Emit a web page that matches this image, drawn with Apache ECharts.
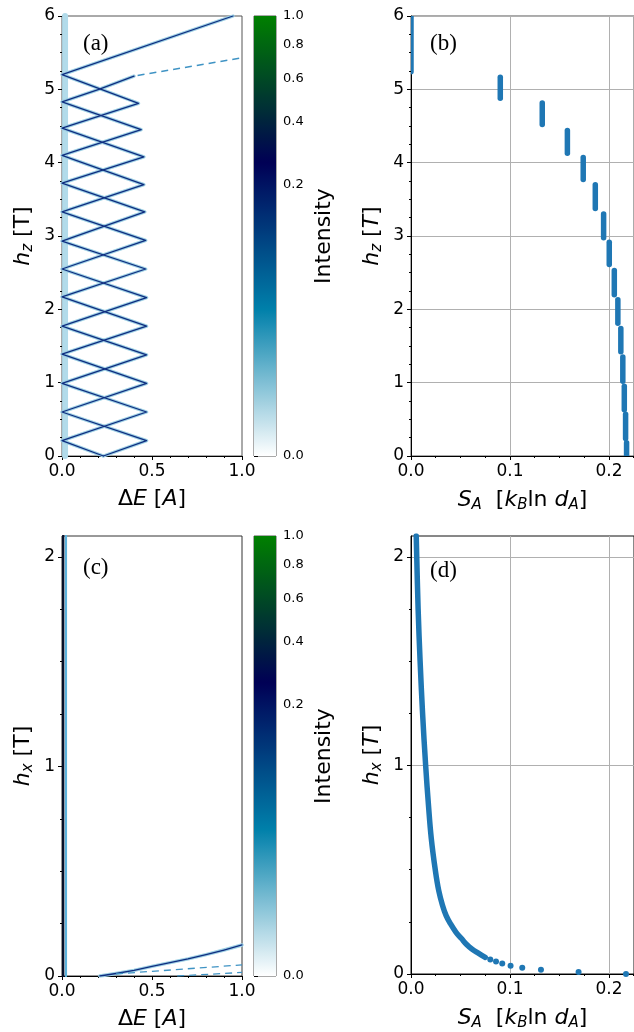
<!DOCTYPE html>
<html><head><meta charset="utf-8">
<script src="https://cdn.jsdelivr.net/npm/echarts@6/dist/echarts.min.js"></script>
<style>html,body{margin:0;padding:0;background:#fff}#c{width:634px;height:1032px}</style>
</head><body><div id="c"></div>
<script>
// ---------------- data ----------------
const colorbarTicks = [0, 0.2, 0.4, 0.6, 0.8, 1.0];
const colorbarTickLabels = ['0.0', '0.2', '0.4', '0.6', '0.8', '1.0'];
const powerGamma = 0.3;

const dETicks = [0, 0.5, 1.0];
const dETickLabels = ['0.0', '0.5', '1.0'];
const hzTicks = [0, 1, 2, 3, 4, 5, 6];
const hzTickLabels = ['0', '1', '2', '3', '4', '5', '6'];
const hxTicks = [0, 1, 2];
const hxTickLabels = ['0', '1', '2'];
const hxMinorTicks = [0.25, 0.5, 0.75, 1.25, 1.5, 1.75];
const entTicks = [0, 0.1, 0.2];
const entTickLabels = ['0.0', '0.1', '0.2'];
const entMinorTicks = [0.025, 0.05, 0.075, 0.125, 0.15, 0.175, 0.225];

// (a) spectral branches  [ΔE, h_z]
const aBranch1 = [[0.23,0],[0,0.21],[0.47,0.60],[0,0.99],[0.47,1.38],[0,1.77],[0.47,2.16],[0,2.55],[0.465,2.94],[0,3.33],[0.455,3.70],[0,4.10],[0.44,4.45],[0,4.83],[0.205,5.00],[0.40,5.18]];
const aBranch2 = [[0.23,0],[0.47,0.21],[0,0.60],[0.47,0.99],[0,1.39],[0.47,1.77],[0,2.17],[0.465,2.55],[0,2.93],[0.46,3.33],[0,3.72],[0.455,4.08],[0,4.47],[0.425,4.81],[0,5.20],[0.95,6.0]];
const aFaint = [[0.42,5.19],[1.0,5.43]];
const aZeroBand = [[0.017,0],[0.017,6]];

// (b) entanglement entropy plateaus: S_A and h_z range
const bEntropy = [0.0, 0.0902, 0.1326, 0.158, 0.174, 0.1862, 0.1946, 0.2003, 0.2054, 0.209, 0.212, 0.214, 0.2155, 0.2168, 0.2178];
const bHzLow  = [5.24, 4.88, 4.52, 4.13, 3.77, 3.375, 2.975, 2.61, 2.20, 1.81, 1.42, 1.02, 0.63, 0.24, 0.0];
const bHzHigh = [6.0, 5.165, 4.815, 4.44, 4.07, 3.70, 3.30, 2.915, 2.53, 2.13, 1.74, 1.35, 0.95, 0.57, 0.18];

// (c) spectral branches  [ΔE, h_x]
const cDark = [[0.007,0],[0.007,2.1]];
const cLight = [[0.022,0],[0.022,2.1]];
const cBranch = [[0.21,0],[0.3,0.012],[0.4,0.027],[0.5,0.046],[0.6,0.064],[0.7,0.082],[0.8,0.102],[0.9,0.124],[1.0,0.148]];
const cFaint1 = [[0.3,0.01],[1.0,0.053]];
const cFaint2 = [[0.64,0.0],[1.0,0.017]];

// (d) entropy vs h_x  [S_A, h_x]
const dCurve = [[0.0053,2.1],[0.0058,2.0],[0.0072,1.75],[0.0092,1.5],[0.0117,1.25],[0.0148,1.0],[0.0178,0.8],[0.0205,0.65],[0.0245,0.5],[0.028,0.4],[0.0318,0.33],[0.0355,0.28],[0.040,0.24],[0.0455,0.2],[0.051,0.17],[0.0565,0.14],[0.0615,0.12],[0.068,0.1],[0.075,0.08]];
const dDots = [[0.0801,0.07],[0.0859,0.06],[0.0922,0.05],[0.1006,0.04],[0.1124,0.03],[0.1313,0.02],[0.1693,0.01],[0.2172,0.0]];

// ---------------- styling helpers ----------------
const SANS = 'DejaVu Sans';
const BLUE = '#1f77b4';
function oceanR(f) {
  const x = 1 - f;
  const cl = v => Math.min(1, Math.max(0, v));
  const r = cl(3 * x - 2), g = cl(Math.abs((3 * x - 1) / 2)), b = cl(x);
  return 'rgb(' + Math.round(r * 255) + ',' + Math.round(g * 255) + ',' + Math.round(b * 255) + ')';
}
const cbStops = [];
for (let k = 0; k <= 60; k++) cbStops.push({ offset: k / 60, color: oceanR(k / 60) });

const rich = {
  n: { fontFamily: SANS, fontSize: 22, color: '#000' },
  i: { fontFamily: SANS, fontSize: 22, fontStyle: 'italic', color: '#000' },
  s: { fontFamily: SANS, fontSize: 15, fontStyle: 'italic', color: '#000', padding: [10, 0, 0, 0] }
};
const nameStyle = { fontFamily: SANS, fontSize: 22, color: '#000', rich: rich };
const tickLabel = (ticks, labels) => ({
  fontFamily: SANS, fontSize: 17, color: '#000', margin: 7,
  customValues: ticks,
  formatter: v => { const i = ticks.findIndex(t => Math.abs(t - v) < 1e-9); return i >= 0 ? labels[i] : ''; }
});
const majorTick = ticks => ({ show: true, length: 4, customValues: ticks, lineStyle: { color: '#000', width: 1 } });
const axisLine = { show: true, onZero: false, lineStyle: { color: '#000', width: 1 } };

function minorAxis(gridIndex, min, max, step, ticks, pos) {
  return {
    type: 'value', gridIndex, min, max, interval: step, position: pos, show: true,
    axisLine: { show: false }, axisLabel: { show: false }, splitLine: { show: false },
    axisTick: { show: true, length: 2, customValues: ticks, lineStyle: { color: '#000', width: 1 } }
  };
}

const cbNorm = colorbarTicks.map(v => Math.pow(v, powerGamma));
function colorbarYAxis(gridIndex) {
  return {
    type: 'value', gridIndex, min: 0, max: 1, interval: 0.05, position: 'right',
    axisLine: { show: false }, splitLine: { show: false },
    axisTick: { show: true, length: 4, customValues: cbNorm, lineStyle: { color: '#000', width: 1 } },
    axisLabel: {
      fontFamily: SANS, fontSize: 13, color: '#000', margin: 7, customValues: cbNorm,
      formatter: v => { const i = cbNorm.findIndex(t => Math.abs(t - v) < 1e-6); return i >= 0 ? colorbarTickLabels[i] : ''; }
    },
    name: 'Intensity', nameLocation: 'middle', nameRotate: 90, nameGap: 37,
    nameTextStyle: { fontFamily: SANS, fontSize: 22, color: '#000' }
  };
}
function colorbarSeries(xi, yi) {
  return {
    type: 'custom', xAxisIndex: xi, yAxisIndex: yi, silent: true, data: [[0, 0, 1, 1]],
    renderItem: (params, api) => {
      const p0 = api.coord([api.value(0), api.value(1)]);
      const p1 = api.coord([api.value(2), api.value(3)]);
      return { type: 'rect', shape: { x: p0[0], y: p1[1], width: p1[0] - p0[0], height: p0[1] - p1[1] },
        style: { fill: new echarts.graphic.LinearGradient(0, 1, 0, 0, cbStops) } };
    }
  };
}
function ln(data, xi, yi, color, width, extra) {
  return Object.assign({
    type: 'line', xAxisIndex: xi, yAxisIndex: yi, data, showSymbol: false, symbol: 'none', silent: true,
    lineStyle: { color, width, cap: 'round', join: 'round' }, clip: true
  }, extra || {});
}
function spectral(data, xi, yi) {
  return [ln(data, xi, yi, '#9ccfe3', 3.4, { z: 2 }), ln(data, xi, yi, '#0f2d80', 1.3, { z: 3 })];
}

const gridBorder = '#555';
const option = {
  animation: false,
  backgroundColor: '#fff',
  grid: [
    { left: 62, top: 16, width: 180, height: 440, show: true, borderColor: gridBorder, borderWidth: 1, backgroundColor: 'transparent' },
    { left: 254, top: 16, width: 22, height: 440, show: true, borderColor: gridBorder, borderWidth: 1, backgroundColor: 'transparent' },
    { left: 411, top: 16, width: 223, height: 440, show: true, borderColor: gridBorder, borderWidth: 1, backgroundColor: 'transparent' },
    { left: 62, top: 536, width: 180, height: 440, show: true, borderColor: '#333', borderWidth: 1, backgroundColor: 'transparent' },
    { left: 254, top: 536, width: 22, height: 440, show: true, borderColor: gridBorder, borderWidth: 1, backgroundColor: 'transparent' },
    { left: 411, top: 536, width: 223, height: 440, show: true, borderColor: '#111', borderWidth: 1, backgroundColor: 'transparent' }
  ],
  xAxis: [
    // 0: (a)
    { type: 'value', gridIndex: 0, min: 0, max: 1, interval: 0.5, position: 'bottom', axisLine,
      axisTick: majorTick(dETicks), axisLabel: tickLabel(dETicks, dETickLabels),
      minorTick: { show: true, splitNumber: 5, length: 2, lineStyle: { color: '#000' } }, splitLine: { show: false },
      name: '{n|Δ}{i|E} {n|[}{i|A}{n|]}', nameLocation: 'middle', nameGap: 32, nameTextStyle: nameStyle },
    // 1: colorbar a
    { type: 'value', gridIndex: 1, min: 0, max: 1, show: false },
    // 2: (b)
    { type: 'value', gridIndex: 2, min: 0, max: 0.2253, interval: 0.1, position: 'bottom', axisLine,
      axisTick: majorTick(entTicks), axisLabel: tickLabel(entTicks, entTickLabels),
      splitLine: { show: true, lineStyle: { color: '#b0b0b0', width: 1 } },
      name: '{i|S}{s|A}  {n|[}{i|k}{s|B}{n|ln }{i|d}{s|A}{n|]}', nameLocation: 'middle', nameGap: 32, nameTextStyle: nameStyle },
    // 3: (b) minor
    minorAxis(2, 0, 0.2253, 0.025, entMinorTicks, 'bottom'),
    // 4: (c)
    { type: 'value', gridIndex: 3, min: 0, max: 1, interval: 0.5, position: 'bottom', axisLine,
      axisTick: majorTick(dETicks), axisLabel: tickLabel(dETicks, dETickLabels),
      minorTick: { show: true, splitNumber: 5, length: 2, lineStyle: { color: '#000' } }, splitLine: { show: false },
      name: '{n|Δ}{i|E} {n|[}{i|A}{n|]}', nameLocation: 'middle', nameGap: 32, nameTextStyle: nameStyle },
    // 5: colorbar c
    { type: 'value', gridIndex: 4, min: 0, max: 1, show: false },
    // 6: (d)
    { type: 'value', gridIndex: 5, min: 0, max: 0.2253, interval: 0.1, position: 'bottom', axisLine,
      axisTick: majorTick(entTicks), axisLabel: tickLabel(entTicks, entTickLabels),
      splitLine: { show: true, lineStyle: { color: '#b0b0b0', width: 1 } },
      name: '{i|S}{s|A}  {n|[}{i|k}{s|B}{n|ln }{i|d}{s|A}{n|]}', nameLocation: 'middle', nameGap: 32, nameTextStyle: nameStyle },
    // 7: (d) minor
    minorAxis(5, 0, 0.2253, 0.025, entMinorTicks, 'bottom')
  ],
  yAxis: [
    // 0: (a)
    { type: 'value', gridIndex: 0, min: 0, max: 6, interval: 1, position: 'left', axisLine,
      axisTick: majorTick(hzTicks), axisLabel: tickLabel(hzTicks, hzTickLabels),
      minorTick: { show: true, splitNumber: 4, length: 2, lineStyle: { color: '#000' } }, splitLine: { show: false },
      name: '{i|h}{s|z} {n|[T]}', nameLocation: 'middle', nameGap: 26, nameTextStyle: nameStyle },
    // 1: colorbar a
    colorbarYAxis(1),
    // 2: (b)
    { type: 'value', gridIndex: 2, min: 0, max: 6, interval: 1, position: 'left', axisLine,
      axisTick: majorTick(hzTicks), axisLabel: tickLabel(hzTicks, hzTickLabels),
      minorTick: { show: true, splitNumber: 4, length: 2, lineStyle: { color: '#000' } },
      splitLine: { show: true, lineStyle: { color: '#b0b0b0', width: 1 } },
      name: '{i|h}{s|z} {n|[}{i|T}{n|]}', nameLocation: 'middle', nameGap: 26, nameTextStyle: nameStyle },
    // 3: (c)
    { type: 'value', gridIndex: 3, min: 0, max: 2.1, interval: 1, position: 'left', axisLine,
      axisTick: majorTick(hxTicks), axisLabel: tickLabel(hxTicks, hxTickLabels), splitLine: { show: false },
      name: '{i|h}{s|x} {n|[T]}', nameLocation: 'middle', nameGap: 26, nameTextStyle: nameStyle },
    // 4: (c) minor
    minorAxis(3, 0, 2.1, 0.25, hxMinorTicks, 'left'),
    // 5: colorbar c
    colorbarYAxis(4),
    // 6: (d)
    { type: 'value', gridIndex: 5, min: 0, max: 2.1, interval: 1, position: 'left', axisLine,
      axisTick: majorTick(hxTicks), axisLabel: tickLabel(hxTicks, hxTickLabels),
      splitLine: { show: true, lineStyle: { color: '#b0b0b0', width: 1 } },
      name: '{i|h}{s|x} {n|[}{i|T}{n|]}', nameLocation: 'middle', nameGap: 26, nameTextStyle: nameStyle },
    // 7: (d) minor
    minorAxis(5, 0, 2.1, 0.25, hxMinorTicks, 'left')
  ],
  series: [
    // (a)
    ln(aZeroBand, 0, 0, '#b2dbea', 6, { z: 1 }),
    ...spectral(aBranch1, 0, 0),
    ...spectral(aBranch2, 0, 0),
    ln(aFaint, 0, 0, '#3f93c4', 1.5, { lineStyle: { color: '#3f93c4', width: 1.5, type: [7, 5] }, z: 3 }),
    colorbarSeries(1, 1),
    // (b)
    {
      type: 'custom', xAxisIndex: 2, yAxisIndex: 2, clip: true, silent: true,
      data: bEntropy.map((s, i) => [s, bHzLow[i], bHzHigh[i]]),
      encode: { x: 0, y: [1, 2] },
      renderItem: (params, api) => {
        const p1 = api.coord([api.value(0), api.value(1)]);
        const p2 = api.coord([api.value(0), api.value(2)]);
        return { type: 'line', shape: { x1: p1[0], y1: p1[1], x2: p2[0], y2: p2[1] },
          style: { stroke: BLUE, lineWidth: 5.5, lineCap: 'round' } };
      }
    },
    // (c)
    ln(cLight, 4, 3, '#5cb3dd', 2.2, { z: 2 }),
    ln(cDark, 4, 3, '#06122e', 2.2, { z: 3 }),
    ...spectral(cBranch, 4, 3),
    ln(cFaint1, 4, 3, '#3f93c4', 1.3, { lineStyle: { color: '#3f93c4', width: 1.3, type: [7, 5] }, z: 3 }),
    ln(cFaint2, 4, 3, '#3f93c4', 1.3, { lineStyle: { color: '#3f93c4', width: 1.3, type: [7, 5] }, z: 3 }),
    colorbarSeries(5, 5),
    // (d)
    ln(dCurve, 6, 6, BLUE, 5.5, { smooth: 0.4 }),
    { type: 'scatter', xAxisIndex: 6, yAxisIndex: 6, data: dDots, symbolSize: 6, silent: true,
      itemStyle: { color: BLUE, opacity: 1 }, clip: true }
  ],
  graphic: [
    { type: 'text', left: 83, top: 32, style: { text: '(a)', font: '23px "Liberation Serif"', fill: '#000' } },
    { type: 'text', left: 430, top: 32, style: { text: '(b)', font: '23px "Liberation Serif"', fill: '#000' } },
    { type: 'text', left: 83, top: 556, style: { text: '(c)', font: '23px "Liberation Serif"', fill: '#000' } },
    { type: 'text', left: 430, top: 559, style: { text: '(d)', font: '23px "Liberation Serif"', fill: '#000' } }
  ]
};
const chart = echarts.init(document.getElementById('c'), null, { renderer: 'canvas' });
chart.setOption(option);
</script>
</body></html>
